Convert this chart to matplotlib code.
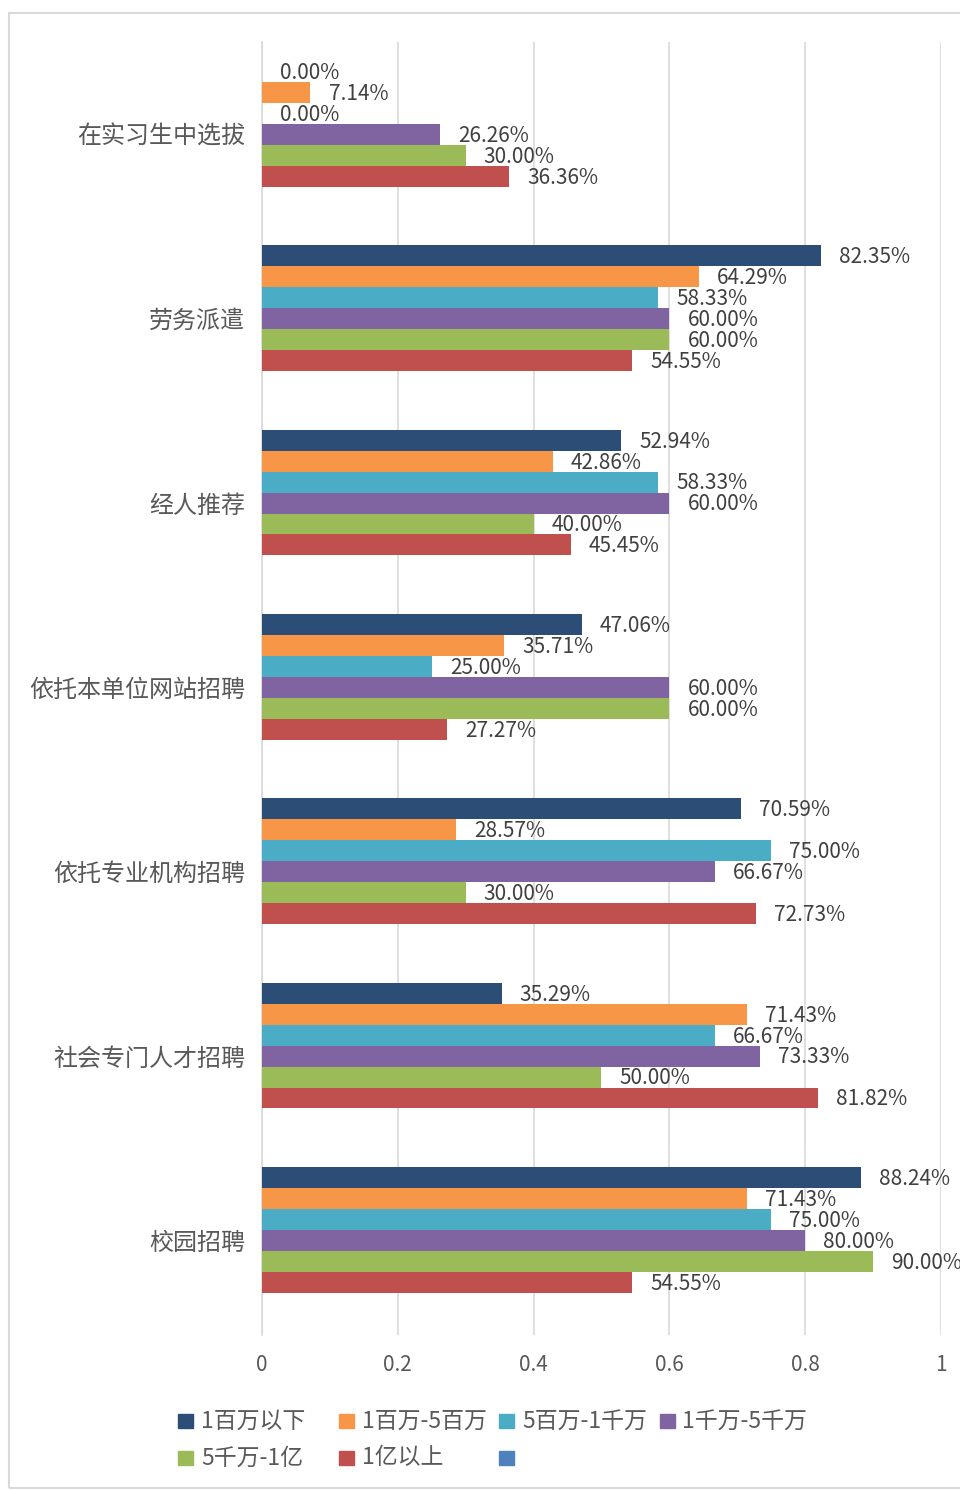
import matplotlib.pyplot as plt
import matplotlib.transforms as mtransforms
from matplotlib.patches import Rectangle

plt.rcParams['font.family'] = ['Noto Sans CJK SC', 'DejaVu Sans']

# Recruitment channels, listed top to bottom
categories = ['在实习生中选拔', '劳务派遣', '经人推荐', '依托本单位网站招聘',
              '依托专业机构招聘', '社会专门人才招聘', '校园招聘']

# Share of firms per revenue band (percent)
s_below_1m = [0.00, 82.35, 52.94, 47.06, 70.59, 35.29, 88.24]
s_1m_5m = [7.14, 64.29, 42.86, 35.71, 28.57, 71.43, 71.43]
s_5m_10m = [0.00, 58.33, 58.33, 25.00, 75.00, 66.67, 75.00]
s_10m_50m = [26.26, 60.00, 60.00, 60.00, 66.67, 73.33, 80.00]
s_50m_100m = [30.00, 60.00, 40.00, 60.00, 30.00, 50.00, 90.00]
s_above_100m = [36.36, 54.55, 45.45, 27.27, 72.73, 81.82, 54.55]

series = [s_below_1m, s_1m_5m, s_5m_10m, s_10m_50m, s_50m_100m, s_above_100m]
series_names = ['1百万以下', '1百万-5百万', '5百万-1千万', '1千万-5千万', '5千万-1亿', '1亿以上']
colors = ['#2C4D75', '#F79646', '#4BACC6', '#8064A2', '#9BBB59', '#C0504D']

text_color = '#595959'
W, H = 960, 1490

fig = plt.figure(figsize=(W / 100, H / 100), dpi=100)
ax = fig.add_axes([0.2729, 0.104, 0.7073, 0.8678])

bar_h = 0.1137
n = len(series)
for i, (vals, name, c) in enumerate(zip(series, series_names, colors)):
    ys = [k + (i - (n - 1) / 2) * bar_h for k in range(len(categories))]
    xs = [v / 100 for v in vals]
    ax.barh(ys, xs, height=bar_h, color=c, label=name, zorder=3)
    for x, y, v in zip(xs, ys, vals):
        ax.annotate(f'{v:.2f}%', xy=(x, y), xytext=(13, -1), textcoords='offset points',
                    ha='left', va='center', fontsize=15, color='#404040', zorder=4)

ax.set_ylim(6.57, -0.444)
ax.set_xlim(0, 1)
ax.set_xticks([0, 0.2, 0.4, 0.6, 0.8, 1])
ax.set_xticklabels(['0', '0.2', '0.4', '0.6', '0.8', '1'])
ax.tick_params(axis='x', length=0, pad=14, labelsize=15, labelcolor=text_color)
ax.grid(axis='x', color='#D9D9D9', lw=1.2, zorder=0)

ax.set_yticks(range(len(categories)))
ax.set_yticklabels(categories)
ax.tick_params(axis='y', length=0, pad=12, labelsize=17.3, labelcolor=text_color)
shift = mtransforms.ScaledTranslation(0, -10 / 100, fig.dpi_scale_trans)
for lab in ax.get_yticklabels():
    lab.set_transform(lab.get_transform() + shift)

for side in ['top', 'right', 'bottom']:
    ax.spines[side].set_visible(False)
ax.spines['left'].set_color('#D9D9D9')
ax.spines['left'].set_linewidth(1.2)

# legend in equal-width columns, filled row by row
legend_labels = series_names + ['']
legend_colors = colors + ['#4F81BD']
for idx, (lab, c) in enumerate(zip(legend_labels, legend_colors)):
    row, col = divmod(idx, 4)
    px = 178 + col * 160.5
    py = 1421 + row * 37
    fig.patches.append(Rectangle((px / W, 1 - (py + 7) / H), 15 / W, 14 / H,
                                 transform=fig.transFigure, color=c))
    fig.text((px + 23) / W, 1 - py / H, lab, ha='left', va='center',
             fontsize=16.5, color=text_color)

# outer chart frame
fig.patches.append(Rectangle((9 / W, 2 / H), 1.2, 1 - 15 / H, transform=fig.transFigure,
                             fill=False, edgecolor='#D9D9D9', lw=1.5))

fig.savefig('out.png', dpi=100)
